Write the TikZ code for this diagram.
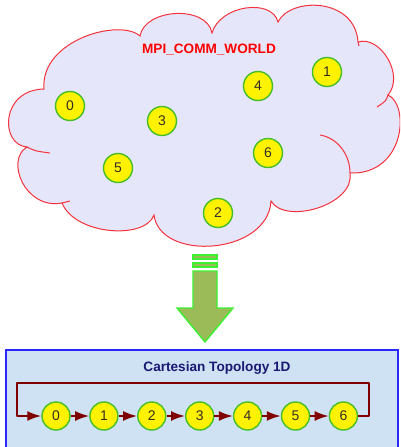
\documentclass[tikz,border=0pt]{standalone}
\usepackage{fontspec}
\setmainfont{Liberation Sans}
\usetikzlibrary{arrows.meta}
\definecolor{cloudfill}{RGB}{230,230,250}
\definecolor{cloudline}{RGB}{245,50,60}
\definecolor{rankgreen}{RGB}{70,190,40}
\definecolor{arrowfill}{RGB}{155,187,89}
\definecolor{arrowline}{RGB}{60,240,50}
\definecolor{boxfill}{RGB}{207,226,243}
\definecolor{boxline}{RGB}{40,40,250}
\definecolor{navy}{RGB}{25,25,115}
\definecolor{linkred}{RGB}{128,0,0}
\tikzset{
  rank/.style={circle,draw=rankgreen,line width=1.4pt,fill=yellow,minimum size=29pt,inner sep=0pt,
    font=\fontsize{14}{16}\selectfont,text=black!85!olive},
  title/.style={font=\fontsize{13.6}{16}\selectfont\bfseries},
  link/.style={draw=linkred,line width=2pt,line join=round,-{Latex[length=14pt,width=10pt]}}
}
\begin{document}
\begin{tikzpicture}[x=1pt,y=-1pt]
\useasboundingbox (0,0) rectangle (400,447);
\clip (0,0) rectangle (400,447);
% the cloud
\filldraw[fill=cloudfill,draw=cloudline,line width=1pt]
  (44,89) .. controls (40,40) and (120,18) .. (140,36)
  .. controls (145,8) and (207,5) .. (212,33)
  .. controls (220,5) and (272,-2) .. (278,22)
  .. controls (290,-3) and (355,-3) .. (358,42)
  .. controls (380,35) and (405,75) .. (388,95)
  .. controls (410,105) and (405,175) .. (350,173)
  .. controls (355,205) and (285,225) .. (271,201)
  .. controls (268,255) and (160,262) .. (154,215)
  .. controls (145,240) and (75,235) .. (62,203)
  .. controls (25,210) and (5,160) .. (27,147)
  .. controls (0,145) and (0,90) .. cycle;
\draw[cloudline,line width=1pt] (388,95) .. controls (386,101) .. (377,107);
\draw[cloudline,line width=1pt] (320,135) .. controls (338,138) and (350,155) .. (350,173);
\draw[cloudline,line width=1pt] (27,147) .. controls (35,151) .. (50,153);
\draw[cloudline,line width=1pt] (62,203) -- (70,201);
\draw[cloudline,line width=1pt] (358,42) -- (359,46);
\node[title,text=red] (world) at (209,50) {MPI\_COMM\_WORLD};
\node[rank] (w0) at (70,106) {0};
\node[rank] (w1) at (327,72) {1};
\node[rank] (w2) at (218,213) {2};
\node[rank] (w3) at (162,121) {3};
\node[rank] (w4) at (258,86) {4};
\node[rank] (w5) at (118,168) {5};
\node[rank] (w6) at (268,153) {6};
% big arrow
\filldraw[fill=arrowfill,draw=arrowline,line width=1.4pt] (193,255) rectangle (217,259);
\filldraw[fill=arrowfill,draw=arrowline,line width=1.4pt] (193,263) rectangle (217,267);
\filldraw[fill=arrowfill,draw=arrowline,line width=1.4pt]
  (193,271) -- (217,271) -- (217,308) -- (233,308) -- (205,342) -- (177,308) -- (193,308) -- cycle;
% the cartesian box
\filldraw[fill=boxfill,draw=boxline,line width=2pt] (6,350) rectangle (398,460);
\node[title,text=navy] (cart) at (217,368) {Cartesian Topology 1D};
\foreach \i in {0,...,6}
  \node[rank,minimum size=28pt] (c\i) at (56+47.9*\i,416) {\i};
\foreach \i [count=\j] in {0,...,5}
  \draw[link] (c\i) -- (c\j);
\coordinate (loopR) at (369,383);
\coordinate (loopL) at (17,383);
\draw[link] (c6.east) -| (loopR) -- (loopL) |- (c0.west);
\end{tikzpicture}
\end{document}
